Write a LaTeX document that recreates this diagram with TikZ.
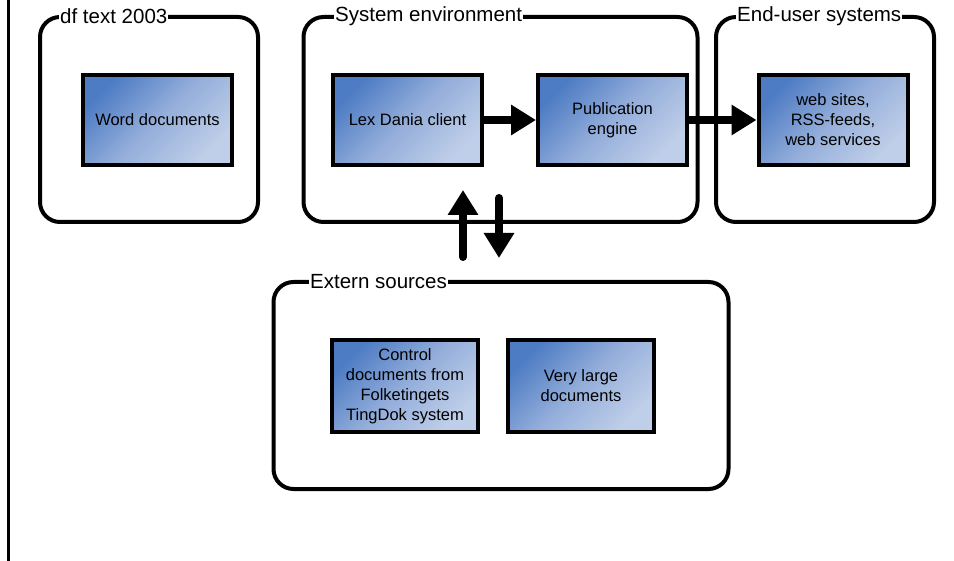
\documentclass[tikz,border=0pt]{standalone}
\usepackage{fontspec}
\setmainfont{Liberation Sans}
\usetikzlibrary{arrows.meta}

\definecolor{boxdark}{RGB}{78,124,196}
\definecolor{boxmid}{RGB}{148,174,218}
\definecolor{boxlight}{RGB}{192,207,233}

\newlength{\du}
\setlength{\du}{1pt}

\tikzset{
  docbox/.style={draw=black, line width=4\du, rectangle,
    minimum width=149\du, minimum height=90\du, align=center, inner sep=2\du,
    top color=boxdark, bottom color=boxlight, middle color=boxmid, shading angle=45,
    font=\fontsize{16.5}{20}\selectfont},
  groupbox/.style={draw=black, line width=4\du, rectangle,
    rounded corners=20\du, fill=white},
  grouplabel/.style={anchor=west, fill=white, inner xsep=1\du, inner ysep=0\du,
    font=\fontsize{20.5}{24}\selectfont},
  flowarrow/.style={line width=8\du, line cap=round,
    -{Triangle[length=25pt,width=29pt]}},
}

\begin{document}
\begin{tikzpicture}[x=\du, y=-\du]
\useasboundingbox (0,0) rectangle (954,561);
\draw[line width=3\du] (8,0) -- (8,561);

% groups
\node[groupbox, minimum width=218\du, minimum height=205\du] (dftext) at (149,119.5) {};
\node[groupbox, minimum width=394\du, minimum height=205\du] (sysenv) at (500.5,119.5) {};
\node[groupbox, minimum width=218\du, minimum height=205\du] (enduser) at (825,119.5) {};
\node[groupbox, minimum width=455\du, minimum height=207\du] (extern) at (501,385.5) {};

\node[grouplabel] (dftextlbl) at (59,16) {df text 2003};
\node[grouplabel] (sysenvlbl) at (334,16) {System environment};
\node[grouplabel] (enduserlbl) at (736,16) {End-user systems};
\node[grouplabel] (externlbl) at (309,282) {Extern sources};

% documents
\node[docbox] (word) at (157.5,120) {Word documents};
\node[docbox] (lexdania) at (407.5,120) {Lex Dania client};
\node[docbox] (pubengine) at (612.5,120) {Publication\\engine};
\node[docbox] (websites) at (833,120) {web sites,\\RSS-feeds,\\web services};
\node[docbox, minimum width=146\du, minimum height=92\du] (tingdok) at (405,386) {Control\\documents from\\Folketingets\\TingDok system};
\node[docbox, minimum width=146\du, minimum height=92\du] (largedocs) at (581,386) {Very large\\documents};

% flows
\draw[flowarrow] (lexdania.east) -- (pubengine.west);
\draw[flowarrow] (pubengine.east) -- (websites.west);

\coordinate (upfrom) at (463,257);
\coordinate (upto) at (463,190);
\coordinate (downfrom) at (499,198);
\coordinate (downto) at (499,258);
\draw[flowarrow] (upfrom) -- (upto);
\draw[flowarrow] (downfrom) -- (downto);
\end{tikzpicture}
\end{document}
